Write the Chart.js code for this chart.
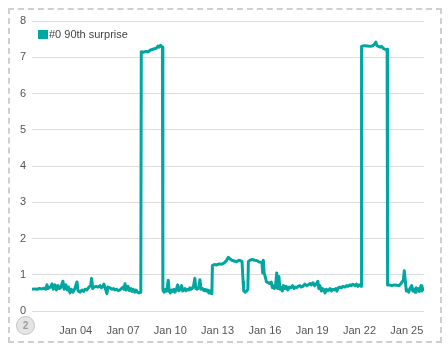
<!DOCTYPE html>
<html>
<head>
    <title></title>
    <script src="https://cdn.jsdelivr.net/npm/chart.js"></script>
    <style>
        body { margin: 0; background: #fff; }
        .wrap { position: relative; width: 448px; height: 351px; }
        .frame {
            position: absolute; left: 8px; top: 8px;
            width: 434px; height: 335px; box-sizing: border-box;
            border: 2px dashed #cfcfcf;
        }
        #chart { position: absolute; left: 0; top: 0; }
        .legend {
            position: absolute; left: 38px; top: 27px;
            font: 11px "Liberation Sans", Arial, sans-serif; color: #444;
            line-height: 14px; white-space: nowrap;
        }
        .legend .box {
            display: inline-block; width: 10px; height: 9px;
            background: #00a6a0; vertical-align: -1px; margin-right: 1px;
        }
        .badge {
            position: absolute; left: 16px; top: 316px;
            width: 17px; height: 17px; border-radius: 50%;
            background: #e4e4e4; border: 1px solid #c4c4c4;
            font: bold 10px "Liberation Sans", Arial, sans-serif; color: #a0a0a0;
            text-align: center; line-height: 17px;
        }
    </style>
</head>
<body>
    <div class="wrap">
        <div class="frame"></div>
        <canvas id="chart" width="448" height="351"></canvas>
        <div class="legend"><span class="box"></span>#0 90th surprise</div>
        <div class="badge">2</div>
    </div>

    <script>
        // x = days since Jan 01 00:00
        const tickDays = [3, 6, 9, 12, 15, 18, 21, 24];
        const tickLabels = ['Jan 04', 'Jan 07', 'Jan 10', 'Jan 13', 'Jan 16', 'Jan 19', 'Jan 22', 'Jan 25'];
        const yTicks = [0, 1, 2, 3, 4, 5, 6, 7, 8];

        const sampleDays = [
            0.23,0.40,0.55,0.70,0.85,1.00,1.10,1.18,1.25,1.40,
            1.50,1.58,1.69,1.78,1.88,1.95,2.05,2.19,2.27,2.38,
            2.46,2.55,2.64,2.72,2.83,2.95,3.08,3.15,3.27,3.40,
            3.50,3.59,3.70,3.84,3.95,4.01,4.08,4.16,4.30,4.42,
            4.54,4.62,4.72,4.79,4.88,4.98,5.05,5.17,5.30,5.40,
            5.49,5.60,5.70,5.81,5.90,6.00,6.06,6.13,6.20,6.32,
            6.40,6.50,6.57,6.65,6.75,6.82,6.92,7.01,7.08,
            7.13,7.16,7.30,7.45,7.60,7.75,7.90,8.05,8.15,8.22,
            8.30,8.38,8.45,8.50,8.53,
            8.56,8.62,8.70,8.78,8.87,8.93,9.00,9.08,9.15,9.23,
            9.30,9.40,9.47,9.54,9.62,9.72,9.78,9.86,9.93,10.00,
            10.10,10.18,10.25,10.32,10.40,10.48,10.56,10.62,10.70,10.80,
            10.88,10.95,11.05,11.14,11.22,11.30,11.38,11.45,11.52,11.60,
            11.64,
            11.67,11.80,11.95,12.10,12.25,12.40,12.55,12.68,12.78,12.91,
            13.05,13.20,13.35,13.50,13.55,13.62,13.66,13.75,13.85,13.92,
            13.95,14.05,14.20,14.35,14.50,14.60,14.75,14.81,14.86,14.90,
            14.95,
            15.02,15.10,15.20,15.30,15.40,15.47,15.52,15.60,15.68,15.75,
            15.80,15.89,15.95,16.02,16.10,16.18,16.27,16.35,16.45,16.55,
            16.65,16.75,16.85,16.91,17.00,17.10,17.22,17.30,17.40,17.54,
            17.65,17.75,17.86,17.95,18.05,18.15,18.25,18.36,18.42,18.49,
            18.58,18.65,18.75,18.81,18.90,19.00,19.13,19.22,19.30,19.40,
            19.50,19.57,19.65,19.76,19.85,19.95,20.08,20.18,20.28,20.39,
            20.48,20.58,20.71,20.80,20.90,20.98,21.05,21.10,
            21.13,21.30,21.50,21.70,21.85,21.95,22.04,22.10,22.20,22.30,
            22.40,22.50,22.61,22.70,22.75,
            22.78,22.90,23.05,23.20,23.35,23.50,23.60,23.70,23.78,23.84,
            23.90,23.97,24.05,24.12,24.20,24.31,24.38,24.45,24.52,24.58,
            24.65,24.72,24.80,24.90,24.96,25.02,25.09
        ];

        const surpriseValues = [
            0.60,0.61,0.60,0.62,0.61,0.63,0.60,0.72,0.62,0.66,
            0.75,0.60,0.72,0.58,0.70,0.62,0.64,0.82,0.60,0.72,
            0.58,0.66,0.50,0.60,0.52,0.62,0.80,0.56,0.52,0.58,
            0.54,0.60,0.58,0.66,0.70,0.90,0.62,0.66,0.68,0.66,
            0.70,0.64,0.68,0.74,0.62,0.48,0.66,0.64,0.60,0.62,
            0.58,0.60,0.56,0.58,0.62,0.66,0.60,0.75,0.58,0.68,
            0.56,0.62,0.54,0.60,0.52,0.58,0.52,0.50,0.52,
            0.55,7.15,7.14,7.16,7.15,7.20,7.22,7.24,7.26,7.31,
            7.28,7.33,7.30,7.28,0.60,
            0.55,0.52,0.60,0.55,0.85,0.55,0.50,0.58,0.54,0.60,
            0.52,0.62,0.72,0.56,0.60,0.70,0.55,0.58,0.62,0.56,
            0.60,0.58,0.64,0.60,0.62,0.70,0.90,0.62,0.60,0.64,
            0.86,0.60,0.62,0.56,0.60,0.55,0.58,0.50,0.56,0.48,
            0.52,
            1.25,1.28,1.27,1.30,1.29,1.32,1.38,1.48,1.44,1.40,
            1.38,1.36,1.40,1.38,1.36,0.80,0.55,0.52,0.55,0.60,
            1.36,1.40,1.42,1.40,1.39,1.36,1.34,1.35,1.05,1.40,
            1.05,
            0.95,0.80,0.78,0.76,0.80,0.65,0.70,0.62,0.70,1.05,
            0.62,0.95,0.60,0.66,0.55,0.70,0.62,0.68,0.58,0.66,
            0.64,0.70,0.62,0.66,0.64,0.68,0.70,0.66,0.68,0.74,
            0.70,0.72,0.76,0.72,0.78,0.70,0.74,0.82,0.62,0.70,
            0.55,0.62,0.58,0.50,0.60,0.56,0.62,0.55,0.60,0.58,
            0.62,0.55,0.64,0.66,0.64,0.68,0.66,0.70,0.68,0.72,
            0.70,0.74,0.70,0.74,0.68,0.72,0.70,0.68,
            7.30,7.32,7.31,7.30,7.32,7.36,7.42,7.32,7.30,7.28,
            7.30,7.25,7.22,7.20,7.22,
            0.72,0.72,0.70,0.72,0.71,0.70,0.74,0.80,0.85,1.11,
            0.85,0.55,0.58,0.52,0.62,0.70,0.55,0.60,0.52,0.64,
            0.55,0.62,0.54,0.70,0.55,0.62,0.56
        ];

        const points = sampleDays.map((d, i) => ({ x: d, y: surpriseValues[i] }));
        const tickFont = { family: '"Liberation Sans", Arial, sans-serif', size: 11 };

        new Chart(document.getElementById('chart').getContext('2d'), {
            type: 'line',
            data: {
                datasets: [{
                    label: '#0 90th surprise',
                    data: points,
                    borderColor: '#00a6a0',
                    backgroundColor: '#00a6a0',
                    borderWidth: 3,
                    borderJoinStyle: 'round',
                    pointRadius: 0,
                    tension: 0,
                    fill: false
                }]
            },
            options: {
                responsive: false,
                animation: false,
                layout: { padding: { left: 10, top: 21, right: 24, bottom: 0 } },
                plugins: {
                    legend: { display: false },
                    tooltip: { enabled: false }
                },
                scales: {
                    x: {
                        type: 'linear',
                        min: sampleDays[0],
                        max: sampleDays[sampleDays.length - 1],
                        grid: { display: false },
                        border: { display: false },
                        afterBuildTicks: (axis) => { axis.ticks = tickDays.map(v => ({ value: v })); },
                        afterFit: (axis) => { axis.height = 40; },
                        ticks: {
                            autoSkip: false,
                            maxRotation: 0,
                            padding: 5,
                            color: '#555',
                            font: tickFont,
                            callback: (value) => tickLabels[tickDays.indexOf(value)]
                        }
                    },
                    y: {
                        min: 0,
                        max: 8,
                        afterBuildTicks: (axis) => { axis.ticks = yTicks.map(v => ({ value: v })); },
                        afterFit: (axis) => { axis.width = 22; },
                        grid: { color: '#dcdcdc', lineWidth: 1, drawTicks: false },
                        border: { display: false },
                        ticks: {
                            padding: 6,
                            color: '#555',
                            font: tickFont
                        }
                    }
                }
            }
        });
    </script>
</body>
</html>
